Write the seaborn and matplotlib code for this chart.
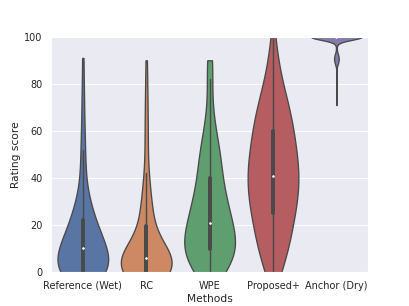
#!/usr/bin/env python3
"""Violin plot of listening-test ratings per method."""
import numpy as np
import pandas as pd
import matplotlib
matplotlib.use("Agg")
import matplotlib.pyplot as plt
import seaborn as sns

methods = ["Reference (Wet)", "RC", "WPE", "Proposed+", "Anchor (Dry)"]

# ratings written as (score, how many times it was given)
wet_scores = [0, 1, 2, 3, 4, 5, 6, 7, 8, 9, 10,
              11, 12, 13, 14, 15, 16, 17, 18, 20, 21, 22,
              23, 24, 25, 27, 29, 31, 33, 35, 38, 41, 44, 48, 52, 55, 60, 66, 72, 80, 91]
wet_counts = [24, 2, 2, 3, 2, 3, 2, 3, 2, 2, 3,
              3, 3, 3, 3, 3, 2, 2, 2, 1, 1, 1,
              2, 2, 2, 2, 2, 1, 1, 1, 1, 1, 1, 1, 1, 1, 1, 1, 1, 1, 1]

rc_scores = [0, 1, 2, 3, 4, 5, 6,
             7, 8, 9, 10, 11, 12, 13, 14, 16, 19,
             21, 22, 24, 26, 28, 30, 32, 34, 35, 37, 40, 42, 49, 53, 58, 63, 68, 74, 81, 90]
rc_counts = [25, 3, 4, 4, 4, 4, 6,
             3, 3, 3, 3, 2, 2, 2, 2, 1, 1,
             2, 2, 2, 2, 1, 1, 1, 1, 1, 1, 1, 1, 1, 1, 1, 1, 1, 1, 1, 1]

wpe_scores = [0, 1, 2, 3, 4, 5, 6, 7, 8, 9,
              10, 11, 12, 13, 14, 15, 16, 17, 18, 19, 20,
              22, 24, 26, 28, 30, 32, 34, 37, 40,
              41, 43, 45, 47, 49, 51, 54, 57, 61, 65, 70, 75, 82, 88, 90]
wpe_counts = [3, 1, 2, 2, 2, 3, 3, 3, 3, 2,
              2, 2, 2, 2, 2, 2, 2, 2, 2, 3, 3,
              2, 3, 3, 3, 3, 3, 3, 2, 2,
              1, 2, 2, 2, 2, 2, 2, 2, 2, 1, 1, 1, 1, 1, 2]

prop_scores = [0, 5, 10, 15, 20, 25, 29, 33, 37, 41, 45,
               50, 55, 60, 65, 70, 75, 80, 86, 92, 100]
prop_counts = [3, 4, 5, 5, 6, 6, 6, 6, 6, 7, 7,
               7, 7, 6, 6, 5, 4, 3, 2, 2, 1]

anchor_scores = [71, 88, 89, 90, 91, 92, 93, 96, 100]
anchor_counts = [1, 2, 3, 5, 5, 4, 2, 2, 150]


def build_frame():
    rows = []
    groups = [
        (wet_scores, wet_counts),
        (rc_scores, rc_counts),
        (wpe_scores, wpe_counts),
        (prop_scores, prop_counts),
        (anchor_scores, anchor_counts),
    ]
    for name, (scores, counts) in zip(methods, groups):
        vals = np.repeat(scores, counts).astype(float)
        rows.append(pd.DataFrame({"Methods": name, "Rating score": vals}))
    return pd.concat(rows, ignore_index=True)


def main():
    df = build_frame()
    sns.set_theme(style="darkgrid")
    fig, ax = plt.subplots(figsize=(409 / 64, 306 / 64), dpi=64)
    sns.violinplot(
        data=df, x="Methods", y="Rating score", hue="Methods",
        order=methods, hue_order=methods, palette="deep", legend=False,
        cut=0, density_norm="width", inner="box", linecolor="#4a4a4a",
        linewidth=1.5, inner_kws=dict(box_width=4.5, whis_width=1.6, marker="."),
        ax=ax,
    )
    ax.set_ylim(0, 100)
    fig.savefig("out.png", dpi=64)


if __name__ == "__main__":
    main()
